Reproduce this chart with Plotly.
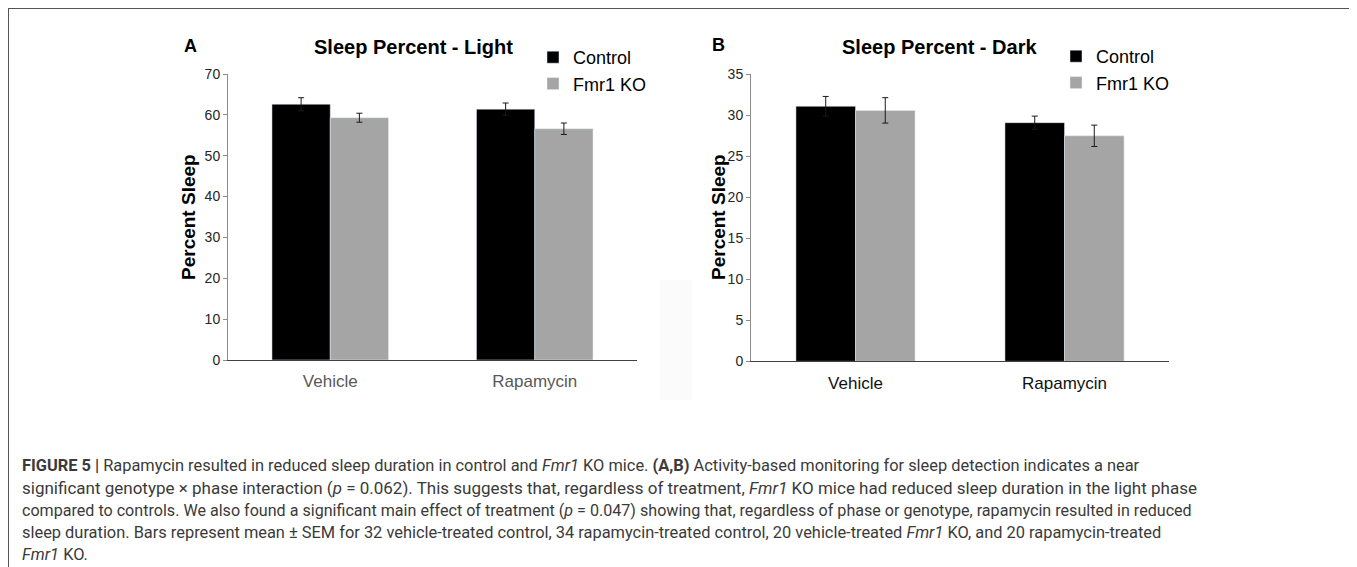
import plotly.graph_objects as go

W, H = 1357, 567
# observed page placement of the figure: left at x=8, top at y=16, drawn height 551
X0, Y0, HD = 8, 16, 551

categories = ["Vehicle", "Rapamycin"]
series_names = ["Control", "Fmr1 KO"]

light_control = [62.6, 61.4]
light_control_err = [1.6, 1.5]
light_ko = [59.3, 56.6]
light_ko_err = [1.1, 1.4]

dark_control = [31.1, 29.1]
dark_control_err = [1.2, 0.8]
dark_ko = [30.6, 27.5]
dark_ko_err = [1.55, 1.3]

light_ticks = [0, 10, 20, 30, 40, 50, 60, 70]
dark_ticks = [0, 5, 10, 15, 20, 25, 30, 35]

caption_lines = [
    "<b>FIGURE 5 |</b> Rapamycin resulted in reduced sleep duration in control and <i>Fmr1</i> KO mice. "
    "<b>(A,B)</b> Activity-based monitoring for sleep detection indicates a near",
    "significant genotype × phase interaction (<i>p</i> = 0.062). This suggests that, regardless of treatment, "
    "<i>Fmr1</i> KO mice had reduced sleep duration in the light phase",
    "compared to controls. We also found a significant main effect of treatment (<i>p</i> = 0.047) showing that, "
    "regardless of phase or genotype, rapamycin resulted in reduced",
    "sleep duration. Bars represent mean ± SEM for 32 vehicle-treated control, 34 rapamycin-treated control, "
    "20 vehicle-treated <i>Fmr1</i> KO, and 20 rapamycin-treated",
    "<i>Fmr1</i> KO.",
]
caption_sizes = [16.4, 17.0, 16.1, 16.4, 16.4]

BLACK = "#000000"
GREY = "#a5a5a5"


def px(x):
    return (x - X0) / W


def py(y):
    return 1 - (y - Y0) / HD


fig = go.Figure()

err_style = dict(type="data", color="#1a1a1a", thickness=1, width=3, visible=True)

fig.add_trace(go.Bar(x=categories, y=light_control, name=series_names[0], marker_color=BLACK,
                     error_y=dict(array=light_control_err, **err_style),
                     xaxis="x", yaxis="y", legend="legend", legendgroup="a1"))
fig.add_trace(go.Bar(x=categories, y=light_ko, name=series_names[1], marker_color=GREY,
                     error_y=dict(array=light_ko_err, **err_style),
                     xaxis="x", yaxis="y", legend="legend", legendgroup="a2"))
fig.add_trace(go.Bar(x=categories, y=dark_control, name=series_names[0], marker_color=BLACK,
                     error_y=dict(array=dark_control_err, **err_style),
                     xaxis="x2", yaxis="y2", legend="legend2", legendgroup="b1"))
fig.add_trace(go.Bar(x=categories, y=dark_ko, name=series_names[1], marker_color=GREY,
                     error_y=dict(array=dark_ko_err, **err_style),
                     xaxis="x2", yaxis="y2", legend="legend2", legendgroup="b2"))

ARIAL = "Arial, Liberation Sans, sans-serif"
tickfont = dict(family=ARIAL, size=14, color="#262626")

fig.update_layout(
    width=W, height=H,
    margin=dict(l=0, r=0, t=0, b=0),
    paper_bgcolor="white", plot_bgcolor="white",
    barmode="group", bargap=0.43, bargroupgap=0,
    font=dict(family=ARIAL, color="#000"),
    xaxis=dict(domain=[px(228), px(637)], anchor="y", showgrid=False, showline=True,
               linecolor="#404040", linewidth=1, ticks="", ticklabelstandoff=6,
               tickfont=dict(family=ARIAL, size=17, color="#595959")),
    yaxis=dict(domain=[py(360), py(74)], anchor="x", range=[0, 70], tickvals=light_ticks,
               showgrid=False, showline=True, linecolor="#8c8c8c", linewidth=1,
               ticks="outside", ticklen=4, tickcolor="#8c8c8c", tickfont=tickfont, zeroline=False),
    xaxis2=dict(domain=[px(751), px(1169)], anchor="y2", showgrid=False, showline=True,
                linecolor="#404040", linewidth=1, ticks="", ticklabelstandoff=6,
                tickfont=dict(family=ARIAL, size=17, color="#111111")),
    yaxis2=dict(domain=[py(361.3), py(74.3)], anchor="x2", range=[0, 35], tickvals=dark_ticks,
                showgrid=False, showline=True, linecolor="#8c8c8c", linewidth=1,
                ticks="outside", ticklen=4, tickcolor="#8c8c8c", tickfont=tickfont, zeroline=False),
    legend=dict(x=px(533), y=py(39), xanchor="left", yanchor="top", bgcolor="rgba(0,0,0,0)",
                font=dict(family=ARIAL, size=18, color="#000"),
                tracegroupgap=0, itemclick=False),
    legend2=dict(x=px(1056), y=py(38), xanchor="left", yanchor="top", bgcolor="rgba(0,0,0,0)",
                 font=dict(family=ARIAL, size=18, color="#000"),
                 tracegroupgap=0, itemclick=False),
    showlegend=True,
)

annotations = []
bold_font = dict(family=ARIAL, color="#000")


def ann(text, x, y, size, angle=0):
    return dict(text=text, x=px(x), y=py(y), xref="paper", yref="paper", xanchor="center",
                yanchor="middle", showarrow=False, textangle=angle, font=dict(size=size, **bold_font))


annotations.append(ann("<b>Sleep Percent - Light</b>", 413, 47, 20))
annotations.append(ann("<b>Sleep Percent - Dark</b>", 939, 47, 20))
annotations.append(ann("<b>A</b>", 190, 46, 18))
annotations.append(ann("<b>B</b>", 718, 45, 18))
annotations.append(ann("<b>Percent Sleep</b>", 188, 217, 19, -90))
annotations.append(ann("<b>Percent Sleep</b>", 718, 217, 19, -90))

cap_y = [465, 488, 510, 532, 554]
for line, yy, sz in zip(caption_lines, cap_y, caption_sizes):
    annotations.append(dict(text=line, x=px(20), y=py(yy), xref="paper", yref="paper",
                            xanchor="left", yanchor="middle", showarrow=False, align="left",
                            font=dict(family="Roboto, sans-serif", size=sz, color="#3a3a3a")))
fig.update_layout(annotations=annotations)

fig.update_layout(shapes=[
    dict(type="rect", xref="paper", yref="paper", x0=px(8), x1=px(1355), y0=py(620), y1=py(8),
         line=dict(color="#555555", width=2), fillcolor="rgba(0,0,0,0)", layer="below"),
    dict(type="rect", xref="paper", yref="paper", x0=px(660), x1=px(692), y0=py(400), y1=py(280),
         line=dict(width=0), fillcolor="#fcfbfc", layer="below"),
])

fig.write_html("out.html")
